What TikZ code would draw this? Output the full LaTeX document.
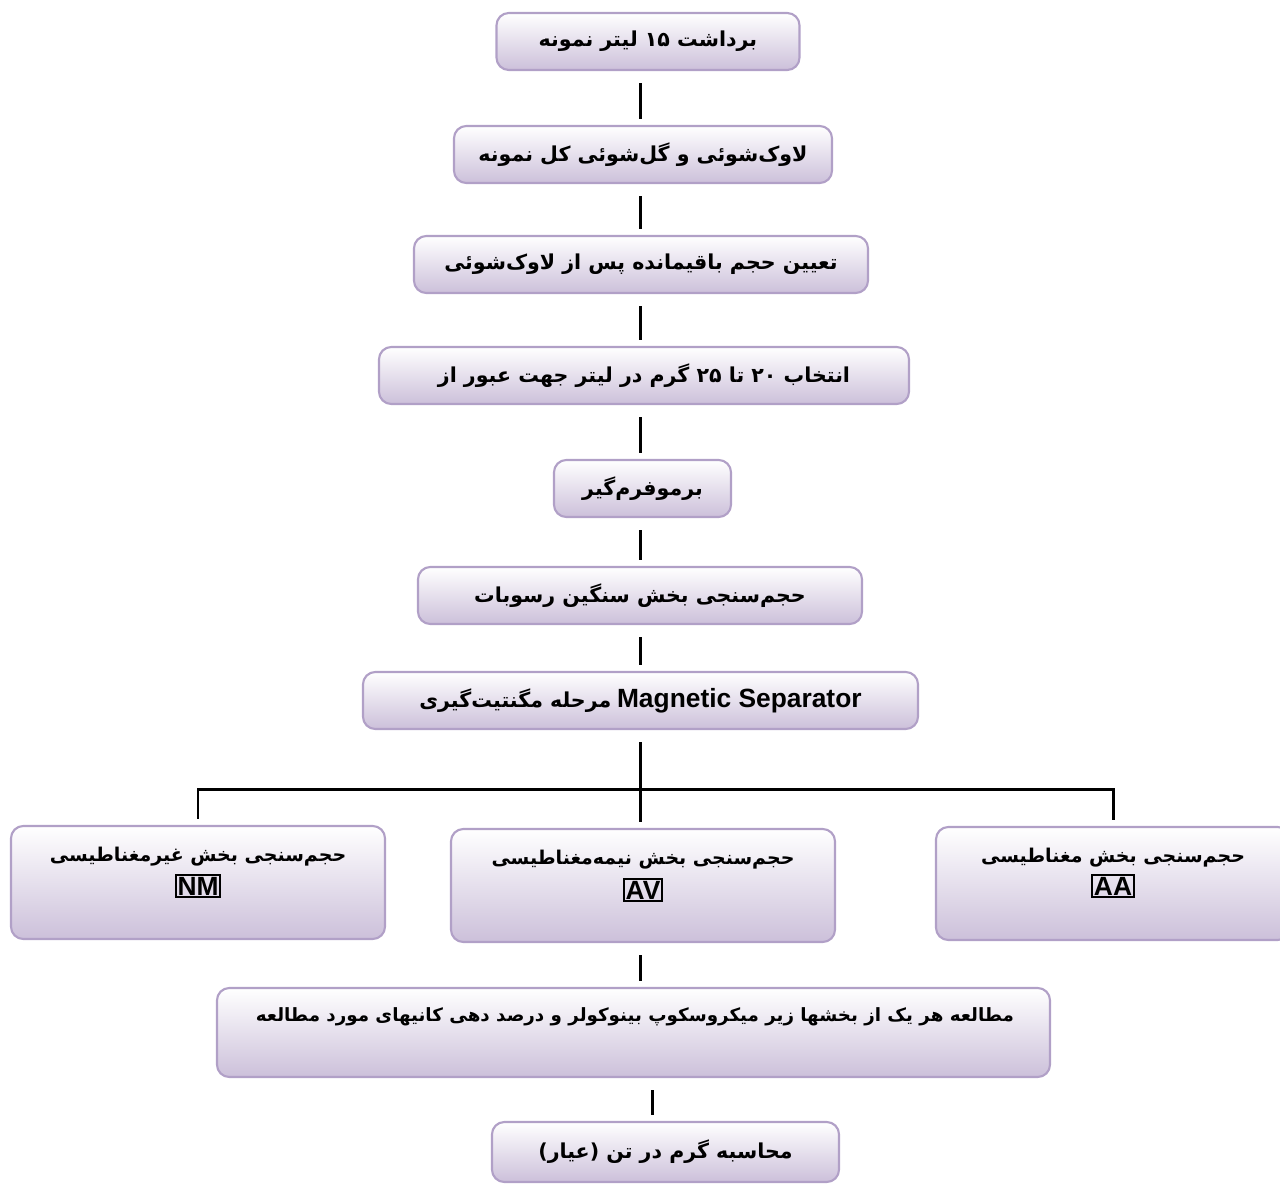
\documentclass[tikz,border=0pt]{standalone}
\usepackage{fontspec}
\setmainfont{Liberation Sans}
\newfontfamily\fa[Script=Arabic]{DejaVu Sans}
\TeXXeTstate=1
\usetikzlibrary{shapes.geometric, arrows}
\definecolor{boxedge}{HTML}{B1A0C7}
\definecolor{boxfill}{HTML}{CCC0DA}
\newcommand{\fatext}[1]{{\fa\bfseries\beginR #1\endR}}
\tikzstyle{stepbox} = [rectangle, rounded corners=7pt, draw=boxedge, line width=1.2pt, top color=white, bottom color=boxfill, minimum height=1.14cm]
\tikzstyle{blank} = [rectangle, inner sep=0pt]
\tikzstyle{tag} = [rectangle, draw=black, line width=1pt, inner sep=1pt, font=\fontsize{15}{17}\selectfont\bfseries]
\tikzstyle{link} = [line width=1.7pt, shorten <=0.24cm, shorten >=0.12cm]

\begin{document}
\begin{tikzpicture}[font=\fontsize{11.7}{14}\selectfont]
        \useasboundingbox (0,0) rectangle (25.6,-23.7);
        \node[stepbox, minimum width=6.06cm] (s1) at (12.96,-0.83) {\fatext{برداشت ۱۵ لیتر نمونه}};
        \node[stepbox, minimum width=7.56cm] (s2) at (12.86,-3.09) {\fatext{لاوک‌شوئی و گل‌شوئی کل نمونه}};
        \node[stepbox, minimum width=9.08cm] (s3) at (12.82,-5.29) {\fatext{تعیین حجم باقیمانده پس از لاوک‌شوئی}};
        \node[stepbox, minimum width=10.6cm] (s4) at (12.88,-7.51) {\fatext{انتخاب ۲۰ تا ۲۵ گرم در لیتر جهت عبور از}};
        \node[stepbox, minimum width=3.54cm] (s5) at (12.85,-9.77) {\fatext{برموفرم‌گیر}};
        \node[stepbox, minimum width=8.88cm] (s6) at (12.80,-11.91) {\fatext{حجم‌سنجی بخش سنگین رسوبات}};
        \node[stepbox, minimum width=11.1cm] (s7) at (12.81,-14.01) {\fatext{مرحله مگنتیت‌گیری} {\fontsize{15}{17}\selectfont\bfseries Magnetic Separator}};

        \node[stepbox, minimum width=7.48cm, minimum height=2.26cm] (nm) at (3.96,-17.65) {};
        \node[stepbox, minimum width=7.68cm, minimum height=2.26cm] (av) at (12.86,-17.71) {};
        \node[stepbox, minimum width=7.08cm, minimum height=2.26cm] (aa) at (22.26,-17.67) {};
        \node[blank, font=\fontsize{10.8}{13}\selectfont] (nmtext) at (3.96,-17.14) {\fatext{حجم‌سنجی بخش غیرمغناطیسی}};
        \node[blank, font=\fontsize{10.8}{13}\selectfont] (avtext) at (12.86,-17.20) {\fatext{حجم‌سنجی بخش نیمه‌مغناطیسی}};
        \node[blank, font=\fontsize{10.8}{13}\selectfont] (aatext) at (22.26,-17.16) {\fatext{حجم‌سنجی بخش مغناطیسی}};
        \node[tag] (nmtag) at (3.96,-17.72) {NM};
        \node[tag] (avtag) at (12.86,-17.80) {AV};
        \node[tag] (aatag) at (22.26,-17.72) {AA};

        \node[stepbox, minimum width=16.66cm, minimum height=1.78cm] (s11) at (12.67,-20.65) {};
        \node[blank, font=\fontsize{10.4}{13}\selectfont] (s11text) at (12.70,-20.34) {\fatext{مطالعه هر یک از بخشها زیر میکروسکوپ بینوکولر و درصد دهی کانیهای مورد مطالعه}};
        \node[stepbox, minimum width=6.94cm, minimum height=1.2cm] (s12) at (13.31,-23.04) {\fatext{محاسبه گرم در تن (عیار)}};

        \draw[link] (s1.south -| s7.center) -- (s2.north -| s7.center);
        \draw[link] (s2.south -| s7.center) -- (s3.north -| s7.center);
        \draw[link] (s3.south -| s7.center) -- (s4.north -| s7.center);
        \draw[link] (s4.south -| s7.center) -- (s5.north -| s7.center);
        \draw[link] (s5.south -| s7.center) -- (s6.north -| s7.center);
        \draw[link] (s6.south -| s7.center) -- (s7.north);

        \coordinate (fork) at (12.81,-15.78);
        \draw[link, shorten >=0pt] (s7.south) -- (fork);
        \draw[link, shorten <=0pt] (fork) -- (fork |- av.north);
        \draw[line width=1.7pt, shorten >=0.12cm] (nm.north) ++(0,0.12) |- (fork) -| (aa.north);
        \draw[link] (av.south -| fork) -- (s11.north -| fork);
        \draw[link] ([xshift=-0.26cm]s12.north |- s11.south) -- ([xshift=-0.26cm]s12.north);
\end{tikzpicture}
\end{document}
